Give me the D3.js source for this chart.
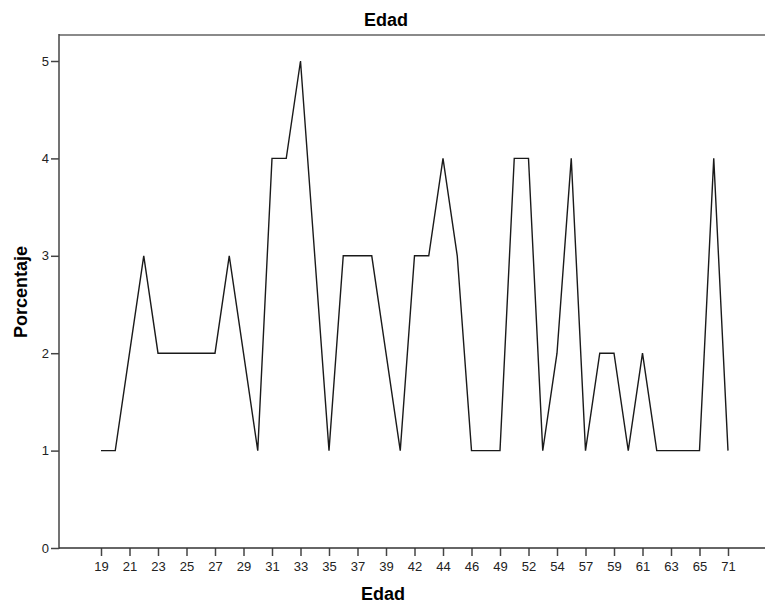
<!DOCTYPE html>
<html><head><meta charset="utf-8">
<script src="https://cdn.jsdelivr.net/npm/d3@7"></script>
<style>body{margin:0;background:#fff}svg{display:block}</style>
</head><body>
<svg id="c" width="765" height="605"></svg>
<script>
const ages = [19,20,21,22,23,24,25,26,27,28,29,30,31,32,33,34,35,36,37,38,39,40,42,43,44,45,46,48,49,51,52,53,54,56,57,58,59,60,61,62,63,64,65,67,71];
const percents = [1,1,2,3,2,2,2,2,2,3,2,1,4,4,5,3,1,3,3,3,2,1,3,3,4,3,1,1,1,4,4,1,2,4,1,2,2,1,2,1,1,1,1,4,1];
const xTickLabels = [19,21,23,25,27,29,31,33,35,37,39,42,44,46,49,52,54,57,59,61,63,65,71];
const yTicks = [0,1,2,3,4,5];

const svg = d3.select("#c");
const font = "'Liberation Sans', Arial, sans-serif";
const pLeft = 59, pRight = 766, pTop = 35, pBottom = 548;

const x = d3.scalePoint().domain(ages).range([101, 728]);
const y = d3.scaleLinear().domain([0, 5]).range([548, 61]);

// frame top
svg.append("line").attr("x1", pLeft).attr("x2", pRight).attr("y1", pTop).attr("y2", pTop)
  .attr("stroke", "#8a8a8a").attr("stroke-width", 2);

// line
const line = d3.line().x((d,i) => x(ages[i])).y(d => y(d));
svg.append("path").datum(percents).attr("d", line)
  .attr("fill", "none").attr("stroke", "#1a1a1a").attr("stroke-width", 1.4)
  .attr("stroke-linejoin", "miter");

// y axis
const yAxis = d3.axisLeft(y).tickValues(yTicks).tickSize(8).tickPadding(2).tickFormat(d3.format("d"));
const gy = svg.append("g").attr("transform", `translate(${pLeft},0)`).call(yAxis);
gy.select(".domain").remove();
gy.selectAll(".tick line").attr("stroke", "#444").attr("stroke-width", 1.5);
gy.selectAll(".tick text").attr("font-family", font).attr("font-size", 13).attr("fill", "#222");
svg.append("line").attr("x1", pLeft).attr("x2", pLeft).attr("y1", pTop-1).attr("y2", pBottom+0.75)
  .attr("stroke", "#444").attr("stroke-width", 1.5);

// x axis
const xAxis = d3.axisBottom(x).tickValues(xTickLabels).tickSize(8).tickPadding(6);
const gx = svg.append("g").attr("transform", `translate(0,${pBottom})`).call(xAxis);
gx.select(".domain").remove();
gx.selectAll(".tick line").attr("stroke", "#444").attr("stroke-width", 1.5);
gx.selectAll(".tick text").attr("font-family", font).attr("font-size", 13).attr("fill", "#222");
svg.append("line").attr("x1", pLeft).attr("x2", pRight).attr("y1", pBottom).attr("y2", pBottom)
  .attr("stroke", "#333").attr("stroke-width", 1.5);

// titles
svg.append("text").attr("x", 386).attr("y", 26).attr("text-anchor", "middle")
  .attr("font-family", font).attr("font-weight", "bold").attr("font-size", 18).attr("fill", "#000").text("Edad");
svg.append("text").attr("x", 383).attr("y", 600).attr("text-anchor", "middle")
  .attr("font-family", font).attr("font-weight", "bold").attr("font-size", 18).attr("fill", "#000").text("Edad");
svg.append("text").attr("transform", "translate(27,292) rotate(-90)").attr("text-anchor", "middle")
  .attr("font-family", font).attr("font-weight", "bold").attr("font-size", 18).attr("fill", "#000").text("Porcentaje");
</script>
</body></html>
